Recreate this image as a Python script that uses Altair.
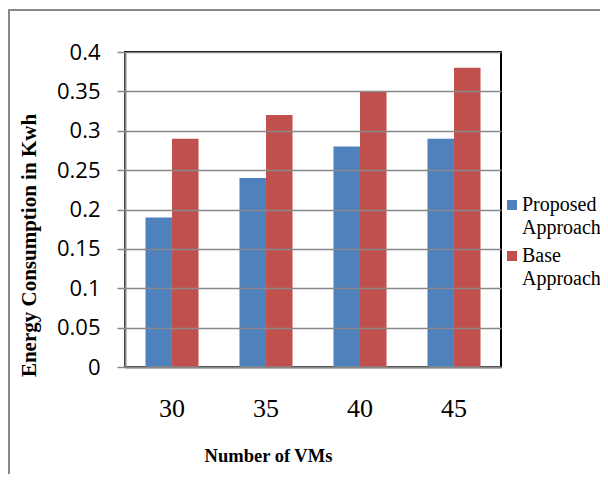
import altair as alt
import pandas as pd

vms = ["30", "35", "40", "45"]
series = ["Proposed Approach", "Base Approach"]
proposed = [0.19, 0.24, 0.28, 0.29]
base = [0.29, 0.32, 0.35, 0.38]
colors = ["#4F81BD", "#C0504D"]
y_ticks = [0, 0.05, 0.1, 0.15, 0.2, 0.25, 0.3, 0.35, 0.4]

rows = []
for i, v in enumerate(vms):
    rows.append({"vms": v, "series": series[0], "value": proposed[i]})
    rows.append({"vms": v, "series": series[1], "value": base[i]})
df = pd.DataFrame(rows)

bars = alt.Chart(df).mark_bar(size=26.5).encode(
    x=alt.X("vms:N", sort=vms,
            scale=alt.Scale(paddingInner=0.435, paddingOuter=0.2175),
            axis=alt.Axis(title="Number of VMs", labelAngle=0, ticks=False,
                          labelFont="Liberation Serif", labelFontSize=26,
                          labelColor="black", labelPadding=41,
                          labelBaseline="middle",
                          titleFont="Liberation Serif", titleFontSize=18.5,
                          titleFontWeight="bold", titleColor="black",
                          titleX=143, titleY=88, titleBaseline="middle",
                          domainColor="#888", domainWidth=2, zindex=1)),
    xOffset=alt.XOffset("series:N", sort=series),
    y=alt.Y("value:Q", scale=alt.Scale(domain=[0, 0.4], nice=False),
            axis=alt.Axis(title="Energy Consumption in Kwh", values=y_ticks,
                          format=".2~f",
                          labelFont="Open Sans", labelFontSize=22,
                          labelColor="black", labelPadding=17,
                          tickSize=8, tickColor="#888", tickWidth=1.5,
                          domainColor="#888", domainWidth=2,
                          gridColor="#888", gridWidth=1.5,
                          titleFont="Liberation Serif", titleFontSize=21,
                          titleFontWeight="bold", titleColor="black",
                          titleX=-96, titleY=193, titleBaseline="middle",
                          titleAngle=270, zindex=1)),
    color=alt.Color("series:N", sort=series,
                    scale=alt.Scale(domain=series, range=colors),
                    legend=alt.Legend(title=None, orient="none",
                                      legendX=377, legendY=143,
                                      symbolType="square", symbolSize=100,
                                      symbolStrokeWidth=0,
                                      labelFont="Liberation Serif",
                                      labelFontSize=20, labelColor="black",
                                      labelLimit=200, labelOffset=0,
                                      labelExpr="split(datum.label, ' ')",
                                      labelBaseline="middle",
                                      rowPadding=8)),
)

frame = alt.Chart(pd.DataFrame({"a": [0]})).mark_rect(
    fillOpacity=0, stroke="#888", strokeWidth=2
).encode(x=alt.value(-116), x2=alt.value(600),
         y=alt.value(-42), y2=alt.value(600))

chart = alt.layer(bars, frame).properties(
    width=376, height=315,
    padding={"left": 117, "top": 44, "right": 99, "bottom": 107},
    autosize=alt.AutoSizeParams(type="none"),
).configure(
    style={"guide-label": {"lineHeight": 23}}
).configure_view(stroke="black", strokeWidth=2)

chart.save("out.html", embed_options={"renderer": "svg", "actions": False})
